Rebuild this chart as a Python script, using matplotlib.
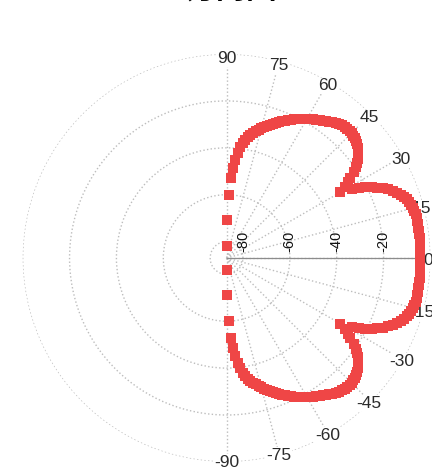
import numpy as np
import matplotlib.pyplot as plt
from matplotlib.transforms import offset_copy

# radiation pattern, gain in dB at 1 degree steps from 0 to 90 (pattern is symmetric)
angles_half = np.arange(0, 91, 1)
gain_half = [
    -4.5, -4.5, -4.4, -4.4, -4.3, -4.3, -4.2, -4.2, -4.1, -4.1,
    -4.1, -4.1, -4.1, -4.2, -4.4, -4.7, -5.1, -5.6, -6.2, -7.0,
    -8.0, -9.2, -10.6, -12.2, -14.0, -16.0, -18.2, -20.6, -23.2, -26.0,
    -31.0, -28.0, -25.8, -24.0, -21.5, -19.5, -18.0, -16.8, -15.6, -14.6,
    -13.8, -13.1, -12.5, -12.1, -11.8, -11.6, -11.5, -11.6, -11.8, -12.1,
    -12.5, -13.0, -13.6, -14.2, -14.8, -15.4, -16.0, -16.6, -17.2, -17.8,
    -18.4, -19.1, -19.8, -20.5, -21.2, -21.9, -22.6, -23.3, -24.0, -24.8,
    -25.6, -26.4, -27.2, -28.0, -28.9, -29.8, -30.7, -31.6, -32.6, -33.6,
    -34.7, -36.0, -37.5, -39.5, -42.0, -45.0, -48.5, -53.0, -60.0, -71.0,
    -82.0,
]

theta_deg = np.concatenate([-angles_half[:0:-1], angles_half])
gain_db = np.concatenate([gain_half[:0:-1], gain_half])

theta_ticks = np.arange(-90, 91, 15)
theta_labels = [str(t) for t in theta_ticks]
r_ticks = [-80, -60, -40, -20, 0]
r_labels = ['-80', '-60', '-40', '-20']
r_min, r_max = -87, 0

fig = plt.figure(figsize=(4.32, 4.75), dpi=100)
ax = fig.add_axes([0.0525, 0.0274, 0.944, 0.859], projection='polar')
ax.set_theta_zero_location('E')
ax.set_theta_direction(1)

ax.plot(np.deg2rad(theta_deg), gain_db, linestyle='none', marker='s',
        markersize=6.5, markeredgewidth=0, color='#ef4646', zorder=5,
        clip_on=False)

# solid reference line along 0 degrees
ax.plot([0, 0], [r_min, r_max], color='#8c8c8c', linewidth=0.9, zorder=2)

ax.set_xlim(0, 2 * np.pi)
ax.set_ylim(r_min, r_max)

ax.set_thetagrids(theta_ticks % 360, labels=[''] * len(theta_ticks))
ax.set_rgrids(r_ticks, labels=[''] * len(r_ticks))
ax.grid(True, linestyle=':', color='#bdbdbd', linewidth=1.0)
ax.spines['polar'].set_visible(False)

# angle labels sitting on the outer ring, nudged slightly down
ang_tr = offset_copy(ax.transData, fig=fig, x=0, y=-2.5, units='dots')
for t, lab in zip(theta_ticks, theta_labels):
    ax.text(np.deg2rad(t), -0.9, lab, transform=ang_tr, ha='center',
            va='center', fontsize=12.5, color='#2a2a2a',
            family='Liberation Sans',
            bbox=dict(facecolor='white', edgecolor='none', pad=0.5),
            clip_on=False, zorder=3)

# radial (dB) labels, rotated, just above the 0 degree line
lab_tr = offset_copy(ax.transData, fig=fig, x=0, y=17, units='dots')
for r, lab in zip(r_ticks[:-1], r_labels):
    ax.text(0, r, lab, transform=lab_tr, rotation=90, ha='center',
            va='center', fontsize=10.5, color='#111111',
            family='Liberation Sans', zorder=3)

fig.text(0.536, 1.0055, '方向图', ha='center', va='baseline', fontsize=22,
         fontweight='bold', family=['Noto Sans CJK SC', 'DejaVu Sans'])

fig.savefig('out.png', dpi=100)
